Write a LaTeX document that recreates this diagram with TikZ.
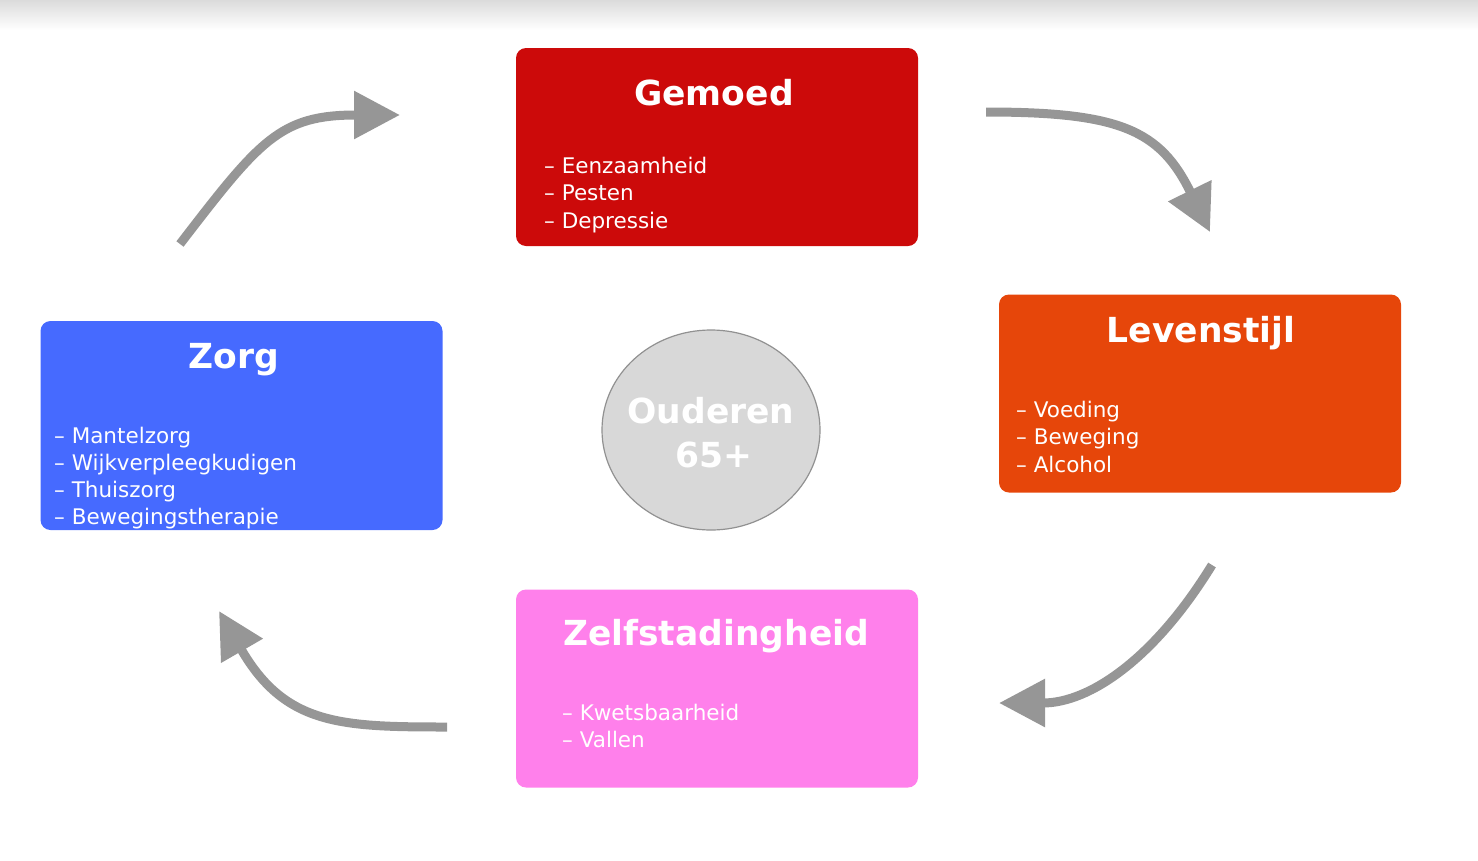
\documentclass[tikz,border=0pt]{standalone}
\usepackage{fontspec}
\setmainfont{DejaVu Sans}
\usepackage{tikz}
\usepackage{xcolor}
\usetikzlibrary{arrows.meta,shapes.geometric}
\definecolor{rood}{RGB}{204, 10, 10}
\definecolor{oranje}{RGB}{230, 70, 10}
\definecolor{blauw}{RGB}{70, 106, 255}
\definecolor{roze}{RGB}{255, 128, 235}
\definecolor{cirkelgrijs}{RGB}{216, 216, 216}
\definecolor{randgrijs}{RGB}{145, 145, 145}
\definecolor{pijlgrijs}{RGB}{150, 150, 150}

\begin{document}
\begin{tikzpicture}[x = 1pt, y = -1pt,
  vak/.style = {rounded corners = 10pt, minimum width = 402pt, minimum height = 198pt, inner sep = 0pt},
  titel/.style = {text = white, font = \fontsize{34.5}{40}\selectfont\bfseries, anchor = base, inner sep = 0pt},
  lijst/.style = {text = white, font = \fontsize{21.5}{27.5}\selectfont, anchor = base west, inner sep = 0pt},
  pijl/.style = {draw = pijlgrijs, line width = 9pt, -{Triangle[length = 46pt, width = 46pt]}}]
\useasboundingbox (0,0) rectangle (1478,860);
\shade[top color = black!14, bottom color = white] (0,0) rectangle (1478,30);
% vakken
\node[vak, fill = rood] (gemoed) at (717,147) {};
\node[vak, fill = oranje] (levenstijl) at (1200,393.5) {};
\node[vak, fill = blauw, minimum height = 209pt] (zorg) at (241.5,425.5) {};
\node[vak, fill = roze] (zelf) at (717,688.5) {};
\node[ellipse, fill = cirkelgrijs, draw = randgrijs, line width = 1.2pt, minimum width = 218pt, minimum height = 200pt] (ouderen) at (711,430) {};
% titels
\node[titel] (gemoed-t) at (714,105) {Gemoed};
\node[titel] (levenstijl-t) at (1201,342) {Levenstijl};
\node[titel] (zorg-t) at (234,368) {Zorg};
\node[titel] (zelf-t) at (716,645) {Zelfstadingheid};
\node[titel] (ouderen-a) at (711,423) {Ouderen};
\node[titel] (ouderen-b) at (714,467) {65+};
% lijsten
\foreach \t [count = \i from 0] in {Eenzaamheid, Pesten, Depressie}
  \node[lijst] (gemoed-\i) at (544,173+27.5*\i) {– \t};
\foreach \t [count = \i from 0] in {Voeding, Beweging, Alcohol}
  \node[lijst] (levenstijl-\i) at (1016,417+27.5*\i) {– \t};
\foreach \t [count = \i from 0] in {Mantelzorg, Wijkverpleegkudigen, Thuiszorg, Bewegingstherapie}
  \node[lijst] (zorg-\i) at (54,443+27.3*\i) {– \t};
\foreach \t [count = \i from 0] in {Kwetsbaarheid, Vallen}
  \node[lijst] (zelf-\i) at (562,720+27.5*\i) {– \t};
% pijlen
\coordinate (p1a) at (180,244);
\coordinate (p1b) at (400,115);
\coordinate (p2a) at (986,112);
\coordinate (p2b) at (1210,232);
\coordinate (p3a) at (1212,565);
\coordinate (p3b) at (999,703);
\coordinate (p4a) at (447,727);
\coordinate (p4b) at (219,611);
\draw[pijl] (p1a) .. controls (260,140) and (280,115) .. (p1b);
\draw[pijl] (p2a) .. controls (1120,112) and (1160,130) .. (p2b);
\draw[pijl] (p3a) .. controls (1155,658) and (1090,703) .. (p3b);
\draw[pijl] (p4a) .. controls (340,727) and (285,725) .. (p4b);
\end{tikzpicture}
\end{document}
